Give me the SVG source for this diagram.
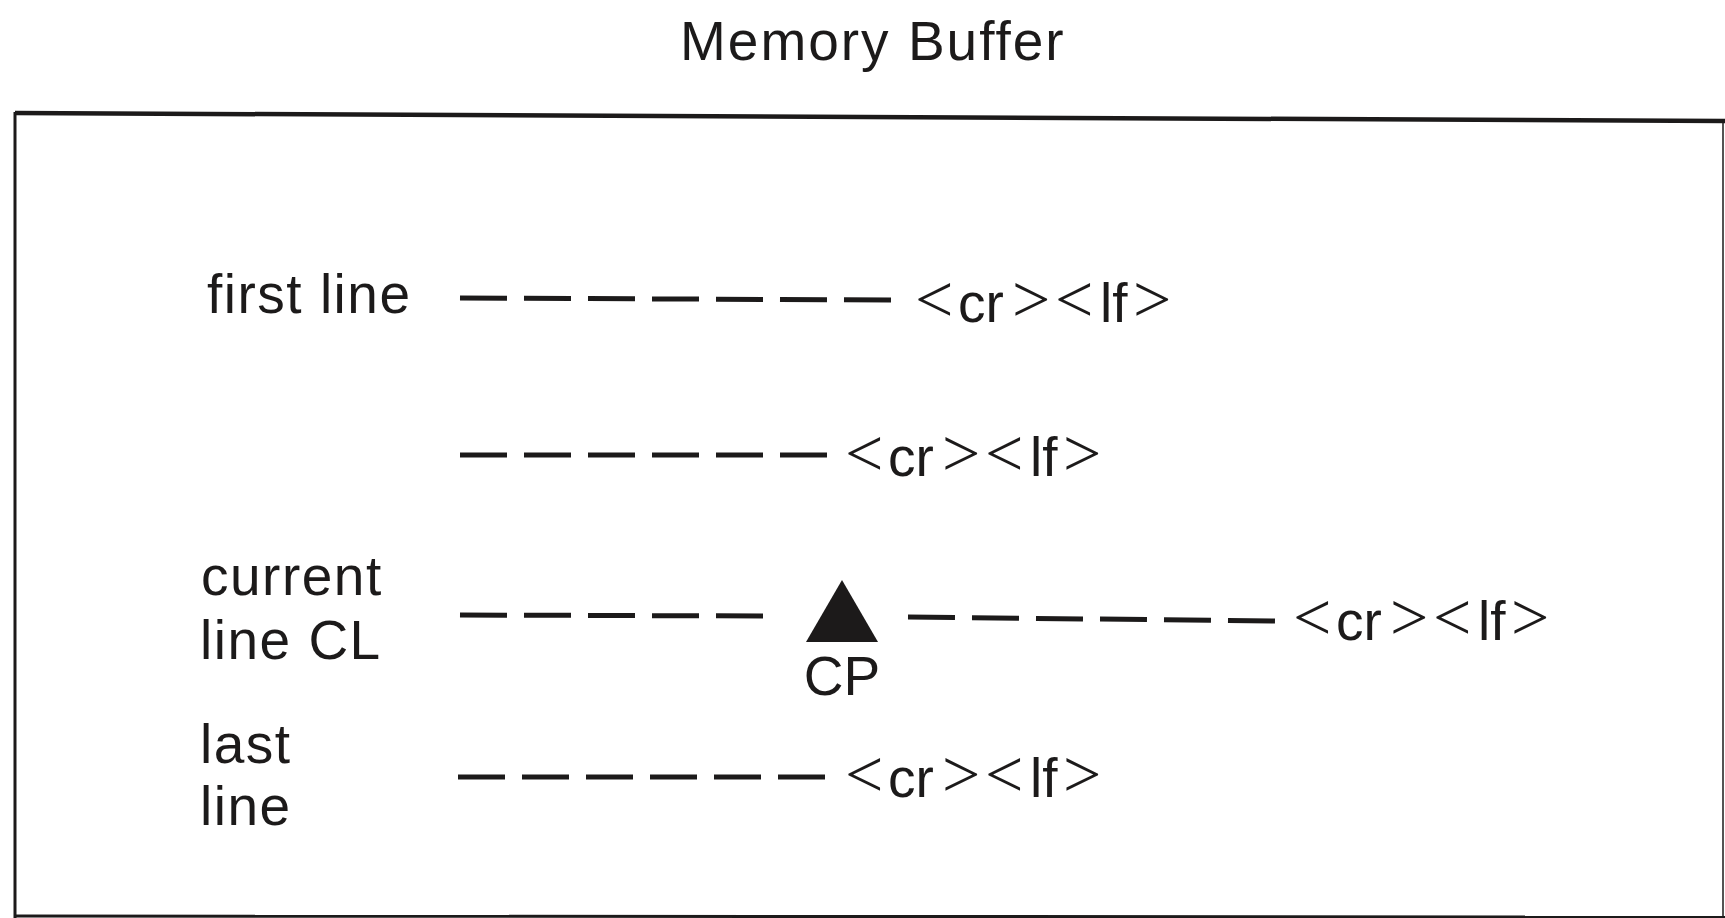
<svg xmlns="http://www.w3.org/2000/svg" width="1725" height="918" viewBox="0 0 1725 918">
  <style>
    .t { font-family: "Liberation Sans", Arial, sans-serif; font-size: 55px; fill: #1c1a1a; letter-spacing: 1.5px; }
    .title { font-family: "Liberation Sans", Arial, sans-serif; font-size: 55px; fill: #1c1a1a; letter-spacing: 2px; }
    .cl { font-family: "Liberation Sans", Arial, sans-serif; font-size: 55px; fill: #1c1a1a; }
    .br { font-family: "Liberation Serif", "Times New Roman", serif; font-size: 68px; }
    .dash { stroke: #1c1a1a; stroke-width: 5; stroke-dasharray: 47 17; fill: none; }
    .frame { stroke: #1c1a1a; fill: none; }
  </style>
  <rect width="1725" height="918" fill="#ffffff"/>

  <g id="title">
    <text class="title" x="680" y="60">Memory Buffer</text>
  </g>

  <g id="buffer-box">
    <path class="frame" d="M15,113 L1725,121" stroke-width="4.5"/>
    <path class="frame" d="M15,112 L15,918" stroke-width="3"/>
    <path class="frame" d="M15,916 L1725,917" stroke-width="3"/>
    <path class="frame" d="M1723,120 L1723,918" stroke-width="1.5"/>
  </g>

  <g id="connectors">
    <path class="dash" d="M460,298 L895,300"/>
    <path class="dash" d="M460,455 L830,455"/>
    <path class="dash" d="M460,615 L765,616"/>
    <path class="dash" d="M908,617 L1277,621"/>
    <path class="dash" d="M458,777 L828,777"/>
  </g>

  <g id="first-line">
    <text class="t" x="207" y="313">first line</text>
    <text class="cl" y="322"><tspan class="br" x="915">&lt;</tspan><tspan x="958">cr</tspan><tspan class="br" x="1012">&gt;</tspan><tspan class="br" x="1055">&lt;</tspan><tspan x="1100">lf</tspan><tspan class="br" x="1133">&gt;</tspan></text>
  </g>

  <g id="second-line">
    <text class="cl" y="476"><tspan class="br" x="845">&lt;</tspan><tspan x="888">cr</tspan><tspan class="br" x="942">&gt;</tspan><tspan class="br" x="985">&lt;</tspan><tspan x="1030">lf</tspan><tspan class="br" x="1063">&gt;</tspan></text>
  </g>

  <g id="current-line">
    <text class="t" x="201" y="595">current</text>
    <text class="t" x="200" y="659">line CL</text>
    <text class="cl" y="640"><tspan class="br" x="1293">&lt;</tspan><tspan x="1336">cr</tspan><tspan class="br" x="1390">&gt;</tspan><tspan class="br" x="1433">&lt;</tspan><tspan x="1478">lf</tspan><tspan class="br" x="1511">&gt;</tspan></text>
  </g>

  <g id="cursor-cp">
    <polygon points="842,580 878,642 806,642" fill="#1c1a1a"/>
    <text class="cl" x="842" y="695" text-anchor="middle">CP</text>
  </g>

  <g id="last-line">
    <text class="t" x="200" y="763">last</text>
    <text class="t" x="200" y="825">line</text>
    <text class="cl" y="797"><tspan class="br" x="845">&lt;</tspan><tspan x="888">cr</tspan><tspan class="br" x="942">&gt;</tspan><tspan class="br" x="985">&lt;</tspan><tspan x="1030">lf</tspan><tspan class="br" x="1063">&gt;</tspan></text>
  </g>
</svg>
